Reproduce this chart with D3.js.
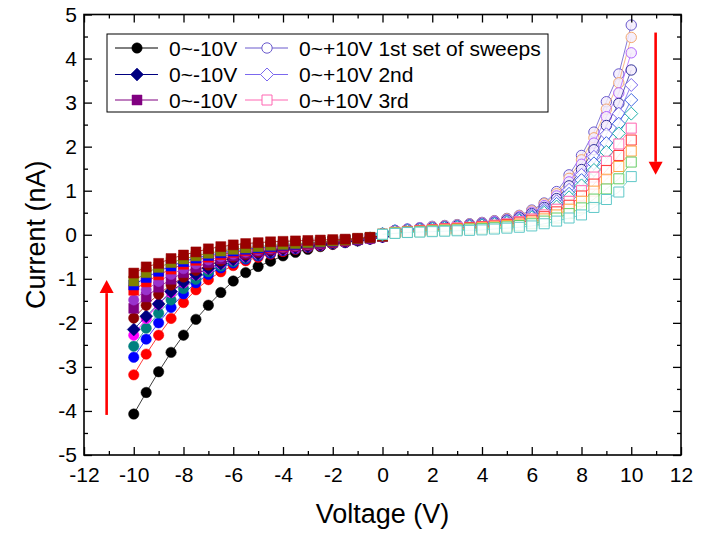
<!DOCTYPE html>
<html><head><meta charset="utf-8">
<script src="https://cdn.jsdelivr.net/npm/d3@7"></script>
<style>
body{margin:0;background:#fff}
svg{display:block}
text{font-family:"Liberation Sans",Arial,sans-serif;fill:#000}
</style>
</head><body>
<svg id="chart" width="702" height="540"></svg>
<script>
// ---------- data ----------
const voltNeg = [-10,-9.5,-9,-8.5,-8,-7.5,-7,-6.5,-6,-5.5,-5,-4.5,-4,-3.5,-3,-2.5,-2,-1.5,-1,-0.5,0];
const voltPos = [0,0.5,1,1.5,2,2.5,3,3.5,4,4.5,5,5.5,6,6.5,7,7.5,8,8.5,9,9.5,10];

const neg1  = [-4.07,-3.58,-3.11,-2.67,-2.28,-1.92,-1.60,-1.31,-1.05,-0.86,-0.72,-0.60,-0.48,-0.40,-0.33,-0.27,-0.22,-0.18,-0.14,-0.10,-0.04];
const neg2  = [-3.18,-2.71,-2.28,-1.90,-1.54,-1.25,-1.02,-0.84,-0.70,-0.59,-0.51,-0.44,-0.38,-0.33,-0.29,-0.25,-0.21,-0.17,-0.13,-0.09,-0.04];
const neg3  = [-2.78,-2.37,-2.00,-1.65,-1.34,-1.09,-0.90,-0.75,-0.64,-0.55,-0.48,-0.42,-0.36,-0.32,-0.28,-0.24,-0.20,-0.17,-0.13,-0.09,-0.05];
const neg4  = [-2.53,-2.12,-1.78,-1.48,-1.22,-1.01,-0.84,-0.71,-0.61,-0.53,-0.46,-0.40,-0.35,-0.31,-0.27,-0.23,-0.20,-0.16,-0.13,-0.09,-0.05];
const neg5  = [-2.28,-1.90,-1.58,-1.31,-1.09,-0.91,-0.77,-0.66,-0.57,-0.50,-0.44,-0.38,-0.34,-0.30,-0.26,-0.23,-0.19,-0.16,-0.12,-0.09,-0.05];
const neg6  = [-2.15,-1.85,-1.57,-1.29,-1.08,-0.90,-0.76,-0.65,-0.56,-0.49,-0.43,-0.38,-0.33,-0.29,-0.26,-0.22,-0.19,-0.15,-0.12,-0.08,-0.04];
const neg7  = [-1.89,-1.60,-1.35,-1.14,-0.96,-0.81,-0.69,-0.59,-0.51,-0.45,-0.40,-0.35,-0.31,-0.27,-0.24,-0.21,-0.18,-0.15,-0.12,-0.08,-0.04];
const neg8  = [-1.67,-1.41,-1.19,-1.01,-0.86,-0.74,-0.63,-0.55,-0.48,-0.42,-0.37,-0.33,-0.29,-0.26,-0.23,-0.20,-0.17,-0.14,-0.11,-0.08,-0.04];
const neg9  = [-1.48,-1.25,-1.06,-0.90,-0.77,-0.66,-0.57,-0.50,-0.44,-0.39,-0.35,-0.31,-0.28,-0.25,-0.22,-0.19,-0.16,-0.13,-0.11,-0.08,-0.04];
const neg10 = [-1.26,-1.07,-0.91,-0.78,-0.67,-0.58,-0.51,-0.45,-0.40,-0.36,-0.32,-0.29,-0.26,-0.23,-0.21,-0.18,-0.16,-0.13,-0.10,-0.07,-0.04];
const neg11 = [-1.14,-0.97,-0.83,-0.71,-0.61,-0.53,-0.47,-0.41,-0.37,-0.33,-0.30,-0.27,-0.24,-0.22,-0.19,-0.17,-0.15,-0.12,-0.10,-0.07,-0.03];
const neg12 = [-1.05,-0.86,-0.74,-0.63,-0.55,-0.48,-0.42,-0.37,-0.33,-0.30,-0.27,-0.24,-0.22,-0.20,-0.18,-0.16,-0.14,-0.12,-0.09,-0.06,-0.03];
const neg13 = [-0.87,-0.73,-0.65,-0.54,-0.46,-0.39,-0.32,-0.27,-0.23,-0.20,-0.18,-0.16,-0.15,-0.14,-0.13,-0.12,-0.11,-0.10,-0.08,-0.06,-0.02];

const pos1  = [0.02,0.10,0.13,0.16,0.19,0.21,0.23,0.25,0.28,0.32,0.37,0.44,0.56,0.72,0.98,1.36,1.80,2.33,3.02,3.65,4.76];
const pos2  = [0.02,0.09,0.12,0.15,0.18,0.20,0.22,0.24,0.27,0.31,0.36,0.43,0.54,0.70,0.93,1.28,1.70,2.20,2.85,3.45,4.48];
const pos3  = [0.02,0.09,0.12,0.15,0.17,0.19,0.21,0.23,0.26,0.30,0.34,0.41,0.51,0.66,0.88,1.20,1.60,2.08,2.68,3.22,4.13];
const pos4  = [0.02,0.09,0.11,0.14,0.16,0.18,0.20,0.22,0.25,0.28,0.33,0.39,0.48,0.62,0.82,1.11,1.48,1.93,2.48,2.98,3.74];
const pos5  = [0.02,0.08,0.11,0.13,0.15,0.17,0.19,0.21,0.24,0.27,0.31,0.37,0.45,0.58,0.76,1.02,1.36,1.77,2.28,2.75,3.40];
const pos6  = [0.02,0.08,0.10,0.12,0.14,0.16,0.18,0.20,0.22,0.25,0.29,0.34,0.42,0.54,0.70,0.93,1.24,1.62,2.08,2.52,3.06];
const pos7  = [0.01,0.07,0.09,0.11,0.13,0.15,0.17,0.19,0.21,0.24,0.27,0.32,0.39,0.50,0.64,0.85,1.12,1.47,1.88,2.30,2.75];
const pos8  = [0.01,0.06,0.08,0.10,0.12,0.14,0.16,0.17,0.19,0.22,0.25,0.30,0.36,0.45,0.58,0.76,1.00,1.31,1.67,2.06,2.42];
const pos9  = [0.01,0.05,0.07,0.09,0.11,0.13,0.14,0.16,0.18,0.20,0.23,0.27,0.33,0.41,0.52,0.67,0.88,1.15,1.46,1.80,2.15];
const pos10 = [0.01,0.05,0.06,0.08,0.10,0.11,0.13,0.14,0.16,0.18,0.21,0.24,0.29,0.36,0.45,0.58,0.76,0.99,1.26,1.55,1.90];
const pos11 = [0.01,0.04,0.06,0.07,0.09,0.10,0.11,0.13,0.14,0.16,0.18,0.21,0.25,0.31,0.38,0.48,0.61,0.81,1.04,1.27,1.65];
const pos12 = [0.01,0.03,0.05,0.06,0.07,0.08,0.09,0.10,0.11,0.13,0.15,0.17,0.20,0.25,0.31,0.38,0.45,0.62,0.80,0.97,1.32];

const xTickValues = [-12,-10,-8,-6,-4,-2,0,2,4,6,8,10,12];
const xTickLabels = ["-12","-10","-8","-6","-4","-2","0","2","4","6","8","10","12"];
const yTickValues = [-5,-4,-3,-2,-1,0,1,2,3,4,5];
const yTickLabels = ["-5","-4","-3","-2","-1","0","1","2","3","4","5"];

const legendLeft  = ["0~-10V","0~-10V","0~-10V"];
const legendRight = ["0~+10V 1st set of sweeps","0~+10V 2nd","0~+10V 3rd"];

const xTitle = "Voltage (V)";
const yTitle = "Current (nA)";

// arrows (data coords)
const arrowUp   = {v:-11.09, from:-4.09, to:-1.03};
const arrowDown = {v:10.98, from:4.59, to:1.36};

// ---------- styling of series ----------
const negStyles = [
  {c:"#000000", s:"circle"},{c:"#ff0000", s:"circle"},{c:"#0000ff", s:"circle"},
  {c:"#008080", s:"circle"},{c:"#ff00ff", s:"circle"},{c:"#000080", s:"diamond"},
  {c:"#8b0000", s:"circle"},{c:"#800080", s:"square"},{c:"#9932cc", s:"circle"},
  {c:"#ff0000", s:"square"},{c:"#0000ff", s:"square"},{c:"#808000", s:"square"},
  {c:"#990000", s:"square"}
];
const negData = [neg1,neg2,neg3,neg4,neg5,neg6,neg7,neg8,neg9,neg10,neg11,neg12,neg13];
const posStyles = [
  {c:"#6a5acd", s:"circle"},{c:"#f4a870", s:"circle"},{c:"#b366ff", s:"circle"},
  {c:"#333399", s:"circle"},{c:"#7b68ee", s:"diamond"},{c:"#4169e1", s:"diamond"},
  {c:"#20b2aa", s:"diamond"},{c:"#ff66b2", s:"square"},{c:"#ff3333", s:"square"},
  {c:"#ffa040", s:"square"},{c:"#66cc66", s:"square"},{c:"#5fc8c8", s:"square"}
];
const posData = [pos1,pos2,pos3,pos4,pos5,pos6,pos7,pos8,pos9,pos10,pos11,pos12];

// ---------- drawing ----------
const svg = d3.select("#chart");
const L=84, R=681, T=14.5, B=455;
const x = d3.scaleLinear().domain([-12,12]).range([L,R]);
const y = d3.scaleLinear().domain([-5,5]).range([B,T]);

function markerPath(shape){
  if(shape==="circle") return d3.symbol().type(d3.symbolCircle).size(Math.PI*5.2*5.2)();
  if(shape==="square") return "M-5,-5L5,-5L5,5L-5,5Z";
  return "M0,-6.5L6.5,0L0,6.5L-6.5,0Z";
}

const plot = svg.append("g");
const line = d3.line().x(d=>x(d[0])).y(d=>y(d[1]));

function drawSeries(volts, vals, st, filled){
  const pts = volts.map((v,i)=>[v,vals[i]]);
  const g = plot.append("g");
  g.append("path").attr("d", line(pts)).attr("fill","none")
    .attr("stroke", st.c).attr("stroke-width",0.9).attr("stroke-opacity",filled?0.85:0.9);
  g.selectAll("path.m").data(pts).enter().append("path").attr("class","m")
    .attr("transform", d=>`translate(${x(d[0])},${y(d[1])})`)
    .attr("d", markerPath(st.s))
    .attr("fill", filled ? st.c : (st.s==="circle" ? "#f3ecfb" : "#ffffff"))
    .attr("fill-opacity", filled?1:0.85)
    .attr("stroke", st.c).attr("stroke-width", filled?0.5:1);
}
negData.forEach((d,i)=>drawSeries(voltNeg, d, negStyles[i], true));
posData.forEach((d,i)=>drawSeries(voltPos, d, posStyles[i], false));

// arrows
function arrow(a){
  const xs = x(a.v), y0 = y(a.from), y1 = y(a.to);
  const dir = y1 < y0 ? -1 : 1;
  const headLen = 13, headW = 7;
  svg.append("line").attr("x1",xs).attr("x2",xs).attr("y1",y0).attr("y2",y1 - dir*headLen)
    .attr("stroke","#ff0000").attr("stroke-width",2.6);
  svg.append("path")
    .attr("d",`M${xs},${y1}L${xs-headW},${y1-dir*headLen}L${xs+headW},${y1-dir*headLen}Z`)
    .attr("fill","#ff0000");
}
arrow(arrowUp); arrow(arrowDown);

// axes
const fmtX = d => xTickLabels[xTickValues.indexOf(d)];
const fmtY = d => yTickLabels[yTickValues.indexOf(d)];
const xMinor = d3.range(-11,12,2);
const yMinor = d3.range(-4.5,5,1);

function styleAxis(g){
  g.select(".domain").remove();
  g.selectAll(".tick line").attr("stroke","#000").attr("stroke-width",1.3);
  g.selectAll("text").style("font-size","21px").attr("fill","#000");
}
svg.append("g").attr("transform",`translate(0,${B})`)
  .call(d3.axisBottom(x).tickValues(xTickValues).tickFormat(fmtX).tickSizeInner(-8).tickSizeOuter(0).tickPadding(12))
  .call(styleAxis);
svg.append("g").attr("transform",`translate(0,${B})`)
  .call(d3.axisBottom(x).tickValues(xMinor).tickFormat("").tickSizeInner(-4).tickSizeOuter(0)).call(styleAxis);
svg.append("g").attr("transform",`translate(0,${T})`)
  .call(d3.axisTop(x).tickValues(xTickValues).tickFormat("").tickSizeInner(-8).tickSizeOuter(0)).call(styleAxis);
svg.append("g").attr("transform",`translate(0,${T})`)
  .call(d3.axisTop(x).tickValues(xMinor).tickFormat("").tickSizeInner(-4).tickSizeOuter(0)).call(styleAxis);
svg.append("g").attr("transform",`translate(${L},0)`)
  .call(d3.axisLeft(y).tickValues(yTickValues).tickFormat(fmtY).tickSizeInner(-8).tickSizeOuter(0).tickPadding(7))
  .call(styleAxis);
svg.append("g").attr("transform",`translate(${L},0)`)
  .call(d3.axisLeft(y).tickValues(yMinor).tickFormat("").tickSizeInner(-4).tickSizeOuter(0)).call(styleAxis);
svg.append("g").attr("transform",`translate(${R},0)`)
  .call(d3.axisRight(y).tickValues(yTickValues).tickFormat("").tickSizeInner(-8).tickSizeOuter(0)).call(styleAxis);
svg.append("g").attr("transform",`translate(${R},0)`)
  .call(d3.axisRight(y).tickValues(yMinor).tickFormat("").tickSizeInner(-4).tickSizeOuter(0)).call(styleAxis);

svg.append("rect").attr("x",L).attr("y",T).attr("width",R-L).attr("height",B-T)
  .attr("fill","none").attr("stroke","#000").attr("stroke-width",1.6);

// titles
svg.append("text").attr("x",(L+R)/2).attr("y",523).attr("text-anchor","middle")
  .style("font-size","27px").text(xTitle);
svg.append("text").attr("transform",`translate(45,${(T+B)/2}) rotate(-90)`).attr("text-anchor","middle")
  .style("font-size","27px").text(yTitle);

// legend
const lg = svg.append("g");
lg.append("rect").attr("x",107).attr("y",34).attr("width",441).attr("height",78)
  .attr("fill","#fff").attr("stroke","#000").attr("stroke-width",1);
const legRows = [48, 74.5, 100];
const legNeg = [negStyles[0], negStyles[5], negStyles[7]];
const legPos = [posStyles[0], posStyles[4], posStyles[7]];
function legItem(x0, cy, st, filled, label){
  lg.append("line").attr("x1",x0).attr("x2",x0+43).attr("y1",cy).attr("y2",cy)
    .attr("stroke",st.c).attr("stroke-width",1);
  lg.append("path").attr("transform",`translate(${x0+22},${cy})`).attr("d",markerPath(st.s))
    .attr("fill", filled?st.c:"#fff").attr("stroke",st.c).attr("stroke-width",filled?0.5:1);
  lg.append("text").attr("x",x0+54).attr("y",cy+7.5).style("font-size","21px").text(label);
}
legRows.forEach((cy,i)=>{
  legItem(115, cy, legNeg[i], true, legendLeft[i]);
  legItem(245, cy, legPos[i], false, legendRight[i]);
});
</script>
</body></html>
